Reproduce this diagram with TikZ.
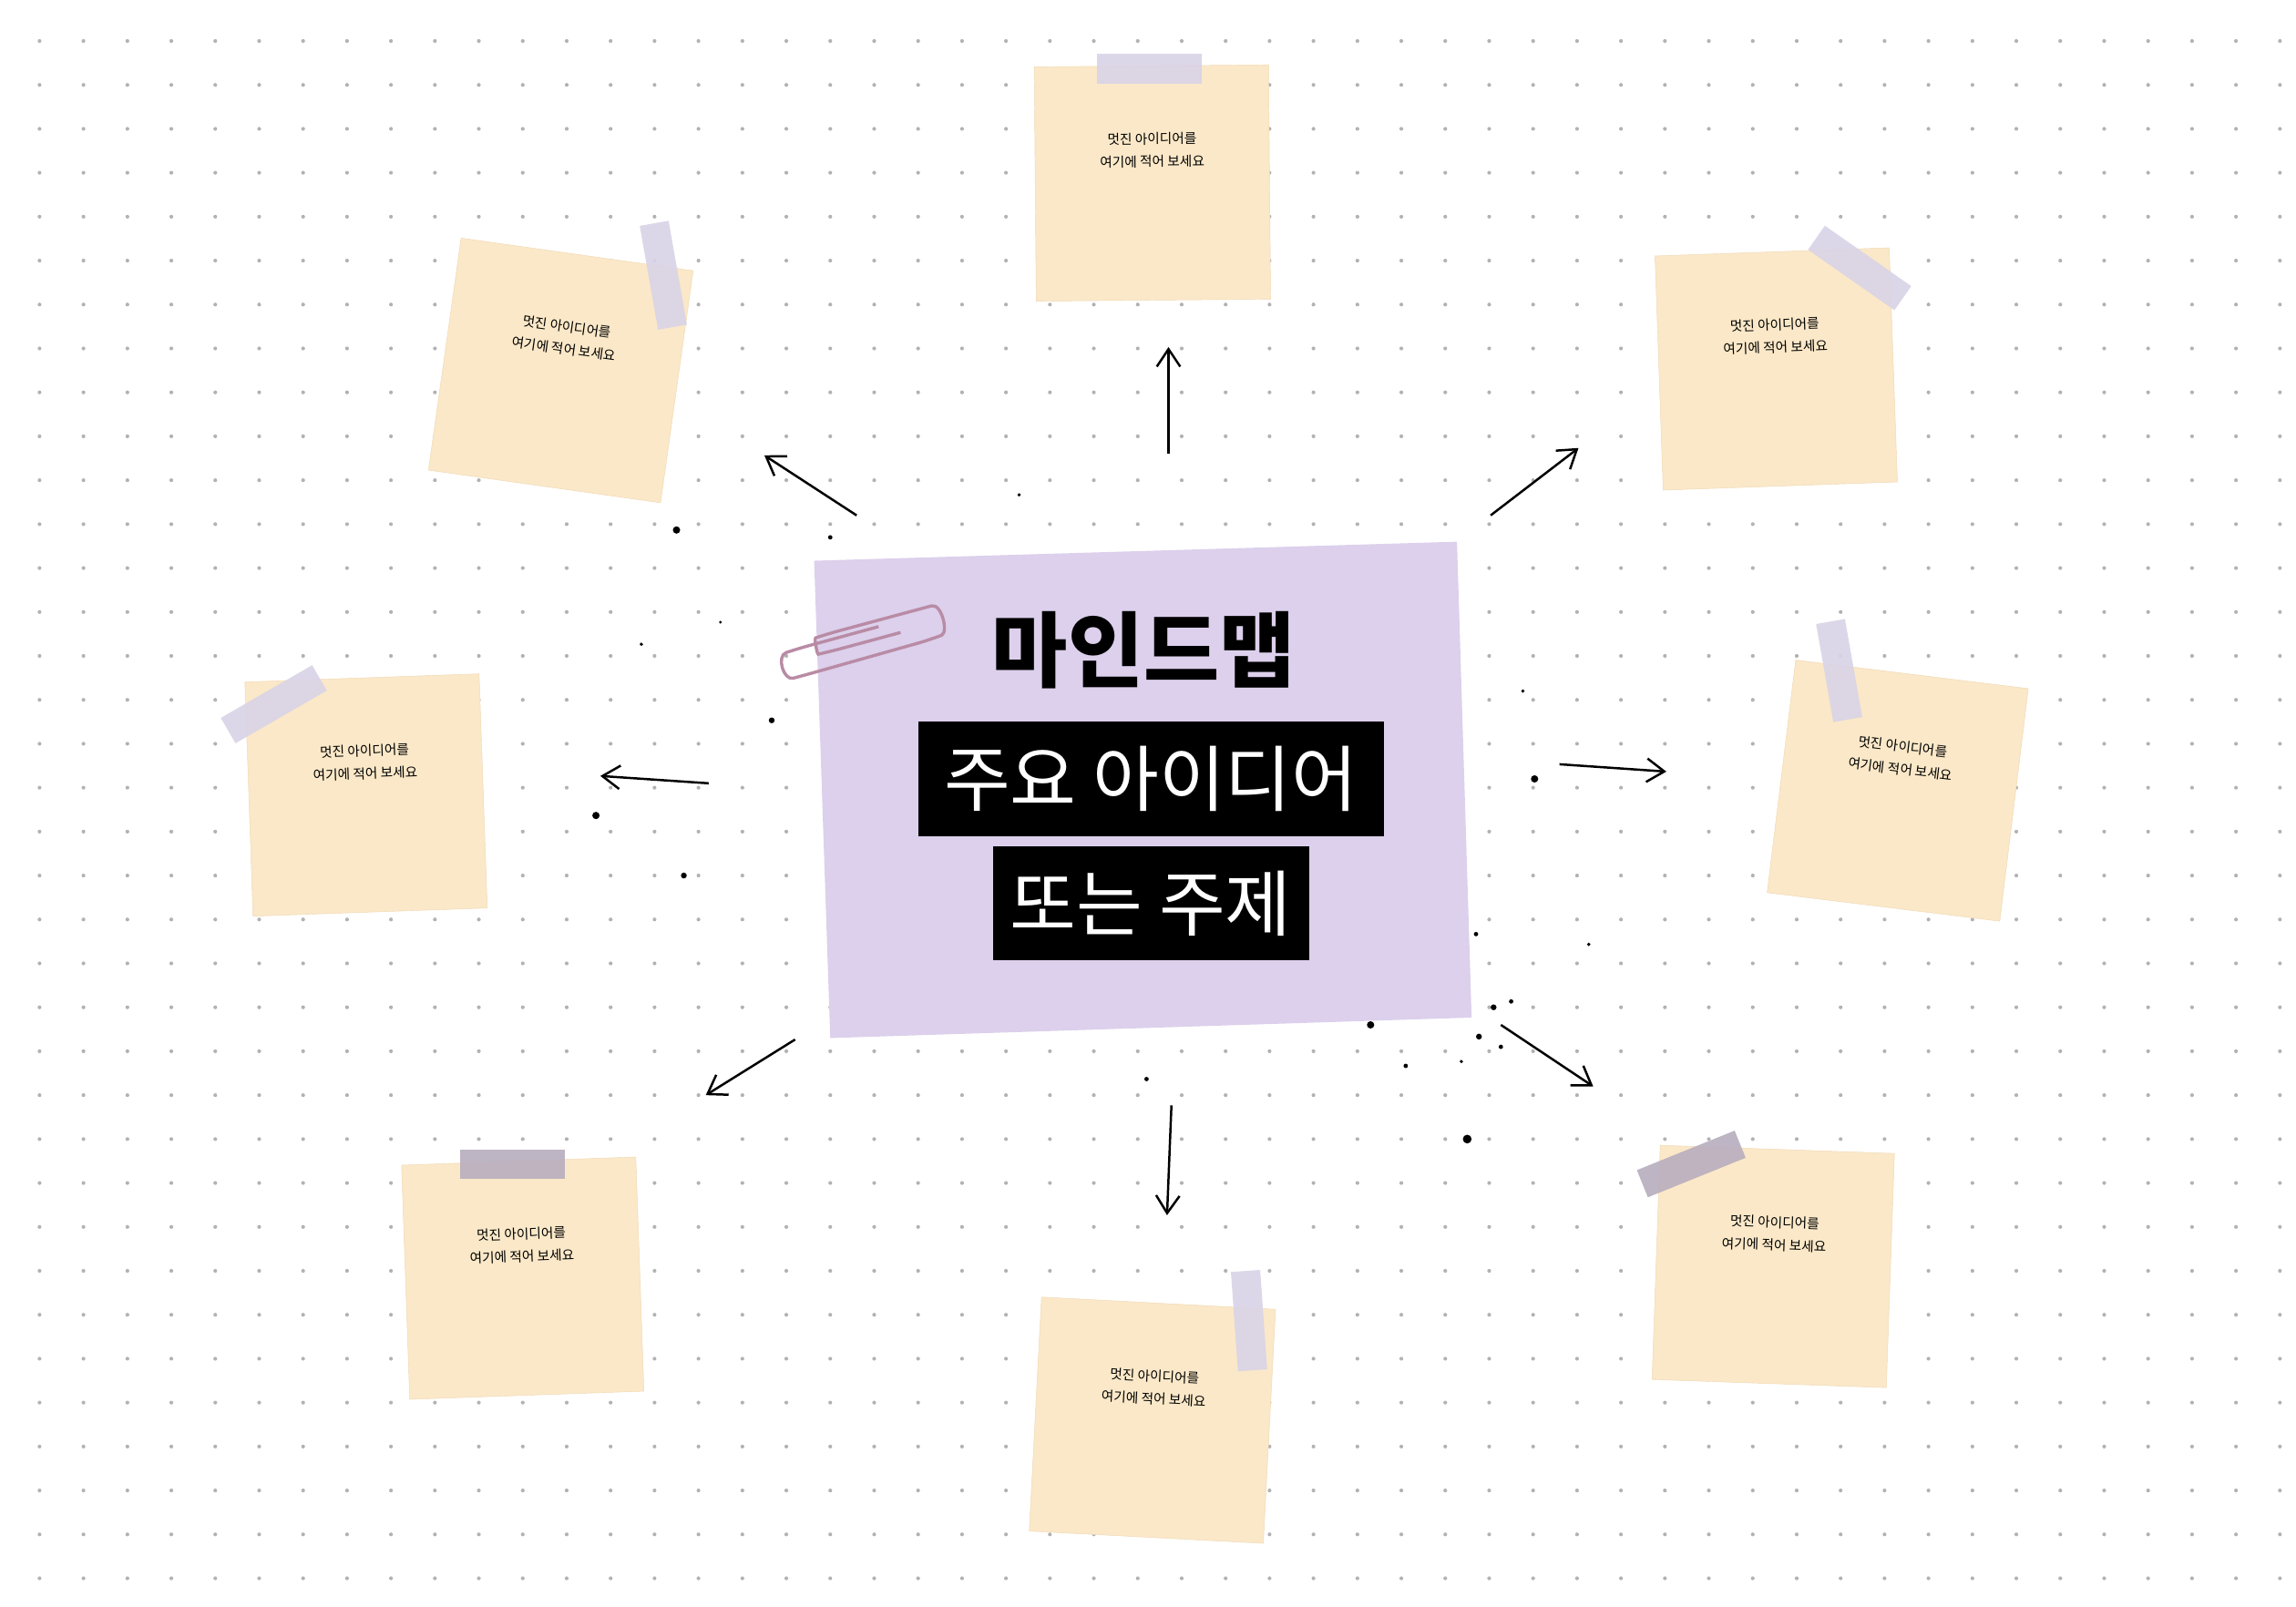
\documentclass[tikz,border=0pt]{standalone}
\usepackage{fontspec}
\newfontfamily\kr{Noto Sans CJK KR}
\newfontfamily\krb{Noto Sans CJK KR Black}
\usetikzlibrary{arrows.meta,calc}
\definecolor{notecol}{HTML}{FAE8C8}
\definecolor{tapecol}{HTML}{D9D3E6}
\definecolor{tapedark}{HTML}{B8AEBE}
\definecolor{purp}{HTML}{DCD0EC}
\begin{document}
\begin{tikzpicture}[x=0.025cm,y=-0.025cm,
 note/.style={fill=notecol,minimum width=4cm,minimum height=4cm,inner sep=0pt,draw=notecol!85!brown,line width=0.2pt},
 ntext/.style={font=\kr\fontsize{6.5}{11}\selectfont,align=center,inner sep=0pt},
 tape/.style={fill=tapecol,opacity=0.9,minimum width=1.8cm,minimum height=0.5cm,inner sep=0pt},
 arr/.style={-{Straight Barb[length=3mm,width=4mm]},line width=1.1pt,black},
 splat/.style={fill=black}]
\fill[white] (0,0) rectangle (1568,1097);
\foreach \x in {27,57,...,1557}{\foreach \y in {28,58,...,1078}{\fill[black!30] (\x,\y) circle (1.3);}}
% notes
\foreach \n/\p/\r in {1/{787,125}/0.5, 2/{383,253}/-8, 3/{1213,252}/2, 4/{250,543}/2, 5/{1296,540}/-7, 6/{357,873}/2, 7/{787,970}/-3, 8/{1211,865}/-2}{
  \node[note,rotate=\r] (n\n) at (\p) {};
  \node[ntext,rotate=\r] (m\n) at ($(n\n.center)!0.28!(n\n.north)$) {멋진 아이디어를\\여기에 적어 보세요};
}
\node[tape] (t1) at (785,47) {};
\node[tape,rotate=-80] (t2) at (453,188) {};
\node[tape,rotate=-35] (t3) at (1270,183) {};
\node[tape,rotate=30] (t4) at (187,481) {};
\node[tape,rotate=-80,minimum width=1.7cm] (t5) at (1256,458) {};
\node[tape,fill=tapedark] (t6) at (350,795) {};
\node[tape,rotate=-86,minimum width=1.7cm] (t7) at (853,902) {};
\node[tape,fill=tapedark,rotate=22] (t8) at (1155,795) {};
% central
\fill[purp] (556,383) -- (995,370) -- (1005,695) -- (567,709) -- cycle;
\node[font=\krb\fontsize{40}{46}\selectfont] (title) at (781,444) {마인드맵};
\node[fill=black,text=white,font=\kr\fontsize{35}{40}\selectfont,minimum width=7.95cm,minimum height=1.95cm,inner sep=0pt] (b1) at (786,532) {주요 아이디어};
\node[fill=black,text=white,font=\kr\fontsize{35}{40}\selectfont,minimum width=5.4cm,minimum height=1.95cm,inner sep=0pt] (b2) at (786,617) {또는 주제};
% paperclip
\draw[color=tapedark!80!purple,line width=1.5pt,rounded corners=6pt] (600,428) -- (545,443) .. controls (530,448) and (535,465) .. (550,461) -- (635,437) .. controls (648,432) and (643,412) .. (628,416) -- (565,433) .. controls (556,436) and (558,447) .. (567,445) -- (615,432);
% arrows
\coordinate (a1s) at (798,310); \coordinate (a1e) at (798,237);
\coordinate (a2s) at (585,352); \coordinate (a2e) at (522,311);
\coordinate (a3s) at (1018,352); \coordinate (a3e) at (1078,306);
\coordinate (a4s) at (484,535); \coordinate (a4e) at (410,530);
\coordinate (a5s) at (1065,522); \coordinate (a5e) at (1138,527);
\coordinate (a6s) at (543,710); \coordinate (a6e) at (482,748);
\coordinate (a7s) at (800,755); \coordinate (a7e) at (797,830);
\coordinate (a8s) at (1025,700); \coordinate (a8e) at (1088,742);
\foreach \i in {1,...,8}{\draw[arr] (a\i s) -- (a\i e);}
% splatter
\foreach \p/\r in {{462,362}/2.5,{407,557}/2.5,{527,492}/2,{467,598}/2,{1048,532}/2.5,{1002,778}/3,{936,700}/2.5,{1020,688}/2,{1010,708}/2,{1032,684}/1.5,{1008,638}/1.5,{783,737}/1.5,{567,367}/1.5,{696,338}/1.2,{438,440}/1.2,{960,728}/1.5,{1025,715}/1.5,{998,725}/1.2,{1085,645}/1.2,{492,425}/1,{1040,472}/1.2}{\fill[splat] (\p) circle (\r);}
\end{tikzpicture}
\end{document}
